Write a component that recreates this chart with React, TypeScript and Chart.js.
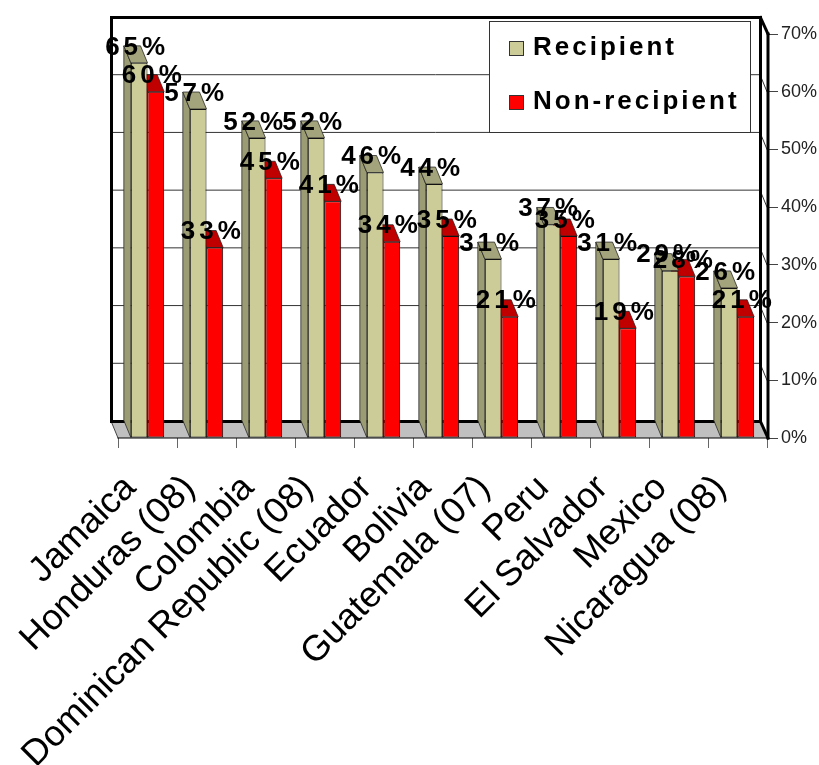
import { useEffect, useRef } from "react";
import { Chart, registerables } from "chart.js";

Chart.register(...registerables);

const categories = [
  "Jamaica",
  "Honduras (08)",
  "Colombia",
  "Dominican Republic (08)",
  "Ecuador",
  "Bolivia",
  "Guatemala (07)",
  "Peru",
  "El Salvador",
  "Mexico",
  "Nicaragua (08)",
];
const recipient = [65, 57, 52, 52, 46, 44, 31, 37, 31, 29, 26];
const nonRecipient = [60, 33, 45, 41, 34, 35, 21, 35, 19, 28, 21];

const DEPTH_X = 7;
const DEPTH_Y = 17;
const FONT = '"Liberation Sans", Arial, sans-serif';

const faceColors = [
  { side: "#9c9c74", top: "#a3a37c" },
  { side: "#c00000", top: "#c00000" },
];

function polygon(ctx: any, pts: number[][], fill: string | null, stroke: string | null, lw = 1) {
  ctx.beginPath();
  pts.forEach((p, i) => (i ? ctx.lineTo(p[0], p[1]) : ctx.moveTo(p[0], p[1])));
  ctx.closePath();
  if (fill) {
    ctx.fillStyle = fill;
    ctx.fill();
  }
  if (stroke) {
    ctx.strokeStyle = stroke;
    ctx.lineWidth = lw;
    ctx.stroke();
  }
}

function segment(ctx: any, x1: number, y1: number, x2: number, y2: number, color: string, lw: number) {
  ctx.beginPath();
  ctx.moveTo(x1, y1);
  ctx.lineTo(x2, y2);
  ctx.strokeStyle = color;
  ctx.lineWidth = lw;
  ctx.stroke();
}

// Back wall, side wall, floor and the extruded faces of each bar.
const box3d = {
  id: "box3d",
  beforeDatasetsDraw(chart: any) {
    const { ctx, chartArea: a, scales } = chart;
    const y = scales.y;
    ctx.save();
    ctx.lineCap = "square";
    polygon(
      ctx,
      [
        [a.left - DEPTH_X, a.bottom - DEPTH_Y],
        [a.right - DEPTH_X, a.bottom - DEPTH_Y],
        [a.right, a.bottom],
        [a.left, a.bottom],
      ],
      "#c0c0c0",
      null
    );
    for (const v of y.ticks.map((t: any) => t.value)) {
      if (v === 0 || v === y.max) continue;
      const py = y.getPixelForValue(v);
      segment(ctx, a.left - DEPTH_X, py - DEPTH_Y, a.right - DEPTH_X, py - DEPTH_Y, "#333333", 1);
      segment(ctx, a.right - DEPTH_X, py - DEPTH_Y, a.right, py, "#333333", 1);
    }
    segment(ctx, a.left - DEPTH_X, a.bottom - DEPTH_Y, a.left, a.bottom, "#444444", 1);
    segment(ctx, a.left, a.bottom, a.right, a.bottom, "#000000", 1);
    const bl = a.left - DEPTH_X + 0.5;
    const br = a.right - DEPTH_X + 0.5;
    const bt = a.top - DEPTH_Y + 0.5;
    const bb = a.bottom - DEPTH_Y + 0.5;
    segment(ctx, bl, bt, br, bt, "#000000", 3);
    segment(ctx, bl, bt, bl, bb, "#000000", 3);
    segment(ctx, bl, bb, br, bb, "#000000", 3);
    segment(ctx, br, bt, br, bb, "#000000", 3);
    segment(ctx, br, bt, a.right + 1, a.top, "#000000", 3);
    segment(ctx, a.right + 1, a.top, a.right + 1, a.bottom, "#000000", 3);
    segment(ctx, br, bb, a.right + 1, a.bottom, "#000000", 3);
    ctx.lineCap = "butt";
    ctx.lineJoin = "miter";
    // The front series is painted last so it hides the neighbour's faces.
    for (const di of [1, 0]) {
      const bars = chart.getDatasetMeta(di).data;
      bars.forEach((bar: any) => {
        const l = bar.x - bar.width / 2;
        const r = bar.x + bar.width / 2;
        polygon(
          ctx,
          [
            [l, bar.y],
            [l - DEPTH_X, bar.y - DEPTH_Y],
            [l - DEPTH_X, bar.base - DEPTH_Y],
            [l, bar.base],
          ],
          faceColors[di].side,
          "#222222",
          0.75
        );
        polygon(
          ctx,
          [
            [l, bar.y],
            [r, bar.y],
            [r - DEPTH_X, bar.y - DEPTH_Y],
            [l - DEPTH_X, bar.y - DEPTH_Y],
          ],
          faceColors[di].top,
          "#222222",
          0.75
        );
      });
    }
    ctx.restore();
  },
  afterDatasetsDraw(chart: any) {
    const { ctx, data } = chart;
    ctx.save();
    // Value labels sit on the back edge of each bar's top face.
    ctx.fillStyle = "#000000";
    ctx.font = `bold 26px ${FONT}`;
    ctx.letterSpacing = "4px";
    ctx.textAlign = "center";
    ctx.textBaseline = "middle";
    data.datasets.forEach((ds: any, di: number) => {
      chart.getDatasetMeta(di).data.forEach((bar: any, i: number) => {
        ctx.fillText(`${ds.data[i]}%`, bar.x - 2, bar.y - DEPTH_Y + 1.5);
      });
    });

    // Legend box in the upper right corner.
    ctx.fillStyle = "#ffffff";
    ctx.fillRect(489.5, 21.5, 261, 111);
    ctx.strokeStyle = "#333333";
    ctx.lineWidth = 1;
    ctx.strokeRect(489.5, 21.5, 261, 111);
    ctx.textAlign = "left";
    ctx.letterSpacing = "3px";
    ctx.font = `bold 26px ${FONT}`;
    data.datasets.forEach((ds: any, di: number) => {
      const cy = 49 + di * 54;
      ctx.fillStyle = ds.backgroundColor;
      ctx.fillRect(509.5, cy - 7.5, 14, 14);
      ctx.strokeStyle = "#333333";
      ctx.strokeRect(509.5, cy - 7.5, 14, 14);
      ctx.fillStyle = "#000000";
      ctx.fillText(ds.label, 533, cy - 1);
    });
    ctx.restore();
  },
};

export default function App() {
  const ref = useRef<HTMLCanvasElement>(null);
  useEffect(() => {
    document.body.style.overflow = "hidden";
    const chart = new Chart(ref.current as HTMLCanvasElement, {
      type: "bar",
      data: {
        labels: categories,
        datasets: [
          {
            label: "Recipient",
            data: recipient,
            backgroundColor: "#cccc99",
            borderColor: "#111111",
            borderWidth: 1,
            borderSkipped: false,
            categoryPercentage: 0.565,
            barPercentage: 1,
          },
          {
            label: "Non-recipient",
            data: nonRecipient,
            backgroundColor: "#ff0000",
            borderColor: "#111111",
            borderWidth: 1,
            borderSkipped: false,
            categoryPercentage: 0.565,
            barPercentage: 1,
          },
        ],
      },
      options: {
        animation: false,
        responsive: false,
        layout: { padding: { left: 118, top: 34, right: 0, bottom: 0 } },
        plugins: { legend: { display: false }, tooltip: { enabled: false } },
        scales: {
          x: {
            grid: { drawOnChartArea: false, color: "#666666", tickLength: 10 },
            border: { display: false },
            ticks: {
              autoSkip: false,
              minRotation: 45,
              maxRotation: 45,
              padding: 19,
              labelOffset: -17,
              color: "#000000",
              font: { family: FONT, size: 36 },
            },
            afterFit(scale: any) {
              scale.height = 327;
              scale.paddingLeft = 0;
              scale.paddingRight = 0;
            },
          },
          y: {
            position: "right",
            min: 0,
            max: 70,
            grid: { drawOnChartArea: false, color: "#444444", tickLength: 11 },
            border: { display: false },
            ticks: {
              stepSize: 10,
              padding: 3,
              color: "#222222",
              font: { family: FONT, size: 18 },
              callback: (v: any) => `${v}%`,
            },
            afterFit(scale: any) {
              scale.width = 52;
              scale.paddingTop = 0;
              scale.paddingBottom = 0;
            },
          },
        },
      },
      plugins: [box3d],
    });
    return () => chart.destroy();
  }, []);
  return (
    <canvas
      ref={ref}
      width={819}
      height={765}
      style={{ position: "fixed", left: 0, top: 0, display: "block", width: 819, height: 765 }}
    />
  );
}
